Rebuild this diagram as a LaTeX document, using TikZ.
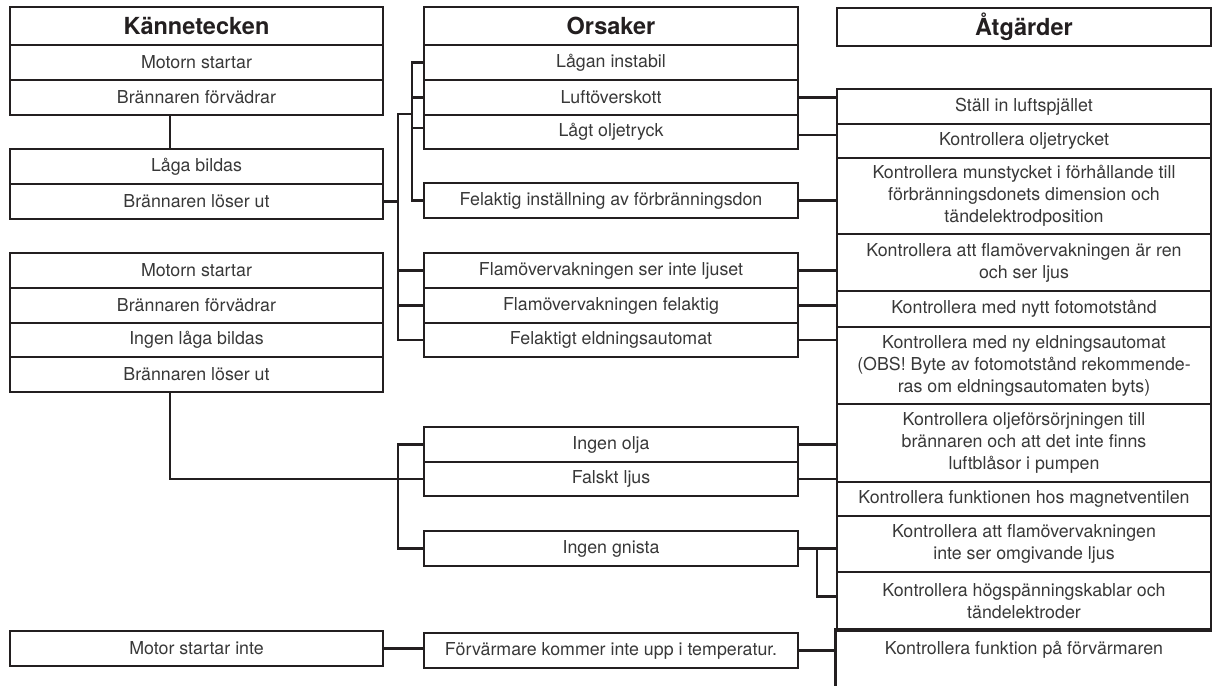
\documentclass[tikz,border=0pt]{standalone}
\usepackage{fontspec}
\setmainfont{TeX Gyre Heros}
\definecolor{linec}{HTML}{231F20}
\definecolor{textc}{HTML}{383838}
\newcommand{\cellfont}{\fontsize{17.8pt}{22pt}\selectfont}
\newcommand{\headfont}{\fontsize{23.5pt}{28pt}\selectfont\bfseries}
\begin{document}
\begin{tikzpicture}[x=1pt,y=-1pt,
 cell/.style={draw=linec, line width=2.9pt, inner sep=0pt, align=center, font=\cellfont, text=textc},
 lcol/.style={cell, minimum width=373pt},
 mcol/.style={cell, minimum width=374pt},
 rcol/.style={cell, minimum width=374pt},
 head/.style={font=\headfont, text=linec},
 wire/.style={draw=linec, line width=2.9pt}]
\useasboundingbox (0,0) rectangle (1212,686);
% left column
\node[lcol, head, minimum height=38pt] (K0) at (196.5,26) {Kännetecken};
\node[lcol, minimum height=35pt] (K1) at (196.5,62.5) {Motorn startar};
\node[lcol, minimum height=35pt] (K2) at (196.5,97.5) {Brännaren förvädrar};
\node[lcol, minimum height=35pt] (K3) at (196.5,166.5) {Låga bildas};
\node[lcol, minimum height=35pt] (K4) at (196.5,201.5) {Brännaren löser ut};
\node[lcol, minimum height=35pt] (K5) at (196.5,270.5) {Motorn startar};
\node[lcol, minimum height=35pt] (K6) at (196.5,305.5) {Brännaren förvädrar};
\node[lcol, minimum height=34pt] (K7) at (196.5,340) {Ingen låga bildas};
\node[lcol, minimum height=35pt] (K8) at (196.5,374.5) {Brännaren löser ut};
\node[lcol, minimum height=35pt] (K9) at (196.5,648.5) {Motor startar inte};
% middle column
\node[mcol, head, minimum height=38pt] (O0) at (611,26) {Orsaker};
\node[mcol, minimum height=35pt] (O1) at (611,62.5) {Lågan instabil};
\node[mcol, minimum height=35pt] (O2) at (611,97.5) {Luftöverskott};
\node[mcol, minimum height=34pt] (O3) at (611,132) {Lågt oljetryck};
\node[mcol, minimum height=35pt] (O4) at (611,200.5) {Felaktig inställning av förbränningsdon};
\node[mcol, minimum height=35pt] (O5) at (611,270.5) {Flamövervakningen ser inte ljuset};
\node[mcol, minimum height=35pt] (O6) at (611,305.5) {Flamövervakningen felaktig};
\node[mcol, minimum height=34pt] (O7) at (611,340) {Felaktigt eldningsautomat};
\node[mcol, minimum height=35pt] (O8) at (611,444.5) {Ingen olja};
\node[mcol, minimum height=34pt] (O9) at (611,479) {Falskt ljus};
\node[mcol, minimum height=35pt] (O10) at (611,548.5) {Ingen gnista};
\node[mcol, minimum height=35pt] (O11) at (611,650.5) {Förvärmare kommer inte upp i temperatur.};
% right column
\node[rcol, head, minimum height=38pt] (A0) at (1024,27) {Åtgärder};
\node[rcol, minimum height=35pt] (A1) at (1024,106.5) {Ställ in luftspjället};
\node[rcol, minimum height=34pt] (A2) at (1024,141) {Kontrollera oljetrycket};
\node[rcol, minimum height=76pt] (A3) at (1024,196) {Kontrollera munstycket i förhållande till\\förbränningsdonets dimension och\\tändelektrodposition};
\node[rcol, minimum height=57pt] (A4) at (1024,262.5) {Kontrollera att flamövervakningen är ren\\och ser ljus};
\node[rcol, minimum height=36pt] (A5) at (1024,309) {Kontrollera med nytt fotomotstånd};
\node[rcol, minimum height=77pt] (A6) at (1024,365.5) {Kontrollera med ny eldningsautomat\\(OBS! Byte av fotomotstånd rekommende-\\ras om eldningsautomaten byts)};
\node[rcol, minimum height=78pt] (A7) at (1024,443) {Kontrollera oljeförsörjningen till\\brännaren och att det inte finns\\luftblåsor i pumpen};
\node[rcol, minimum height=34pt] (A8) at (1024,499) {Kontrollera funktionen hos magnetventilen};
\node[rcol, minimum height=56pt] (A9) at (1024,544) {Kontrollera att flamövervakningen\\inte ser omgivande ljus};
\node[rcol, minimum height=59pt] (A10) at (1024,601.5) {Kontrollera högspänningskablar och\\tändelektroder};
\node[rcol, draw=none, minimum height=38pt] (A11) at (1024,650) {Kontrollera funktion på förvärmaren};
% helper coordinates
\coordinate (xa) at (170,0);
\coordinate (xb) at (398,0);
\coordinate (xc) at (412,0);
\coordinate (xd) at (817,0);
\coordinate (ytop) at (0,114);
\coordinate (ylow) at (0,479);
\coordinate (bot) at (0,686);
% last right box: top and left edges only
\draw[wire] (A11.north east) -- (A11.north west) -- (A11.west |- bot);
% left to middle wires
\draw[wire] (K2.south -| xa) -- (K3.north -| xa);
\draw[wire] (K4.east) -- (K4.east -| xb);
\draw[wire] (xc |- ytop) -- (xb |- ytop) -- (xb |- O7.west) -- (O7.west);
\draw[wire] (O1.west) -- (xc |- O1.west) -- (xc |- O4.west) -- (O4.west);
\draw[wire] (O2.west) -- (O2.west -| xc);
\draw[wire] ([yshift=4pt]O3.west) -- ([yshift=4pt]O3.west -| xc);
\draw[wire] (O5.west) -- (O5.west -| xb);
\draw[wire] (O6.west) -- (O6.west -| xb);
\draw[wire] (K8.south -| xa) -- (xa |- ylow) -- (O9.west);
\draw[wire] (O8.west) -- (O8.west -| xb) -- (O10.west -| xb) -- (O10.west);
\draw[wire] (K9.east) -- (K9.east -| O11.west);
% middle to right wires
\draw[wire] (O2.east) -- (O2.east -| A1.west);
\draw[wire] ([yshift=-3pt]O3.east) -- ([yshift=-3pt]O3.east -| A2.west);
\draw[wire] (O4.east) -- (O4.east -| A3.west);
\draw[wire] (O5.east) -- (O5.east -| A4.west);
\draw[wire] (O6.east) -- (O6.east -| A5.west);
\draw[wire] (O7.east) -- (O7.east -| A6.west);
\draw[wire] (O8.east) -- (O8.east -| A7.west);
\draw[wire] (O9.east) -- (O9.east -| A8.west);
\draw[wire] (O10.east) -- (O10.east -| A9.west);
\draw[wire] (O10.east -| xd) |- ([yshift=5pt]A10.west);
\draw[wire] (O11.east) -- (O11.east -| A11.west);
\end{tikzpicture}
\end{document}
